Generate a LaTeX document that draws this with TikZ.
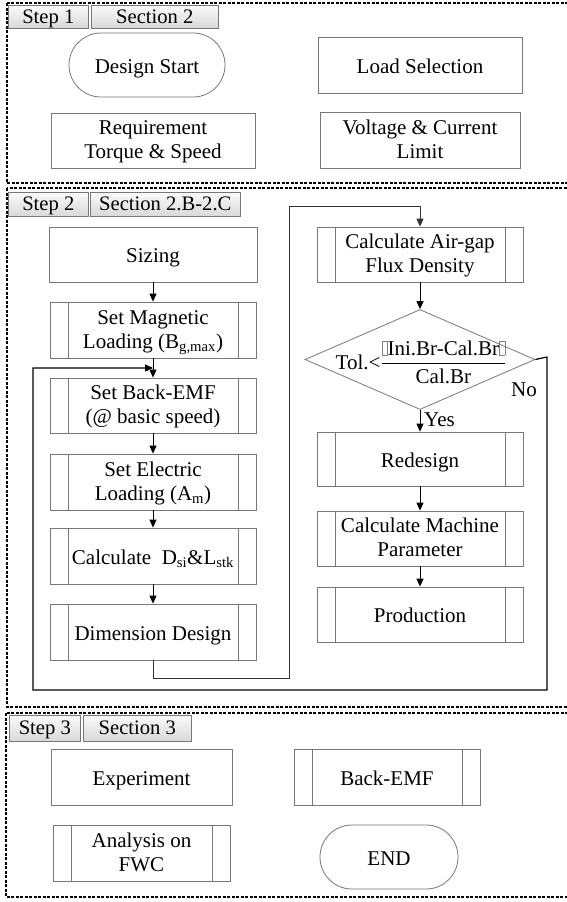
\documentclass[tikz,border=0pt]{standalone}
\usepackage{fontspec}
\setmainfont{Liberation Serif}
\usepackage{amsmath}
\usetikzlibrary{shapes.geometric,arrows.meta}
\definecolor{boxgray}{RGB}{120,120,120}
\newcommand\mbx{{\color{gray}\setlength\fboxsep{0pt}\setlength\fboxrule{0.5pt}\fbox{\rule{0pt}{14pt}\hspace{5pt}}}}
\tikzset{
  box/.style={draw=boxgray, line width=0.8pt, minimum width=206pt, minimum height=56pt,
    align=center, inner sep=1pt, font=\fontsize{21}{24}\selectfont},
  proc/.style={box, path picture={\draw[boxgray, line width=0.8pt]
    ([xshift=18pt]path picture bounding box.north west) -- ([xshift=18pt]path picture bounding box.south west)
    ([xshift=-18pt]path picture bounding box.north east) -- ([xshift=-18pt]path picture bounding box.south east);}},
  term/.style={box, rounded corners=31.9pt},
  one/.style={text height=18.5pt, text depth=2pt},
  two/.style={text height=38pt, text depth=2pt},
  tab/.style={draw=boxgray, line width=0.6pt, top color=gray!4, bottom color=gray!30,
    inner sep=0pt, anchor=north west, text height=15pt, text depth=2pt, font=\fontsize{20.6}{22}\selectfont},
  sect/.style={draw=black, line width=1.6pt, dash pattern=on 3pt off 1.5pt},
  conn/.style={draw=black, line width=0.9pt},
  arr/.style={conn, -{Triangle[length=8pt,width=7pt]}},
  lbl/.style={font=\fontsize{21}{24}\selectfont, inner sep=0pt},
}
\begin{document}
\begin{tikzpicture}[x=1pt,y=-1pt]
\clip (0,0) rectangle (567,902);
\fill[white] (0,0) rectangle (567,902);
% section frames
\draw[sect] (7,3) rectangle (580,183);
\draw[sect] (7,188) rectangle (580,707);
\draw[sect] (6,713) rectangle (580,897);
% tabs
\node[tab, minimum width=80pt, minimum height=23pt] (t1a) at (8,5) {Step 1};
\node[tab, minimum width=127pt, minimum height=23pt] (t1b) at (91,5) {Section 2};
\node[tab, minimum width=80pt, minimum height=24pt] (t2a) at (8,192) {Step 2};
\node[tab, minimum width=150pt, minimum height=24pt] (t2b) at (90,192) {Section 2.B-2.C};
\node[tab, minimum width=71pt, minimum height=26pt] (t3a) at (9,715) {Step 3};
\node[tab, minimum width=108pt, minimum height=26pt] (t3b) at (83,715) {Section 3};
% section 1
\node[term, one, minimum width=156pt, minimum height=64pt] (start) at (147,65) {Design Start};
\node[box, two, minimum width=204pt, minimum height=55pt] (req) at (153,140.5) {Requirement\\Torque \& Speed};
\node[box, one, minimum width=204pt, minimum height=56pt] (load) at (420,65) {Load Selection};
\node[box, two, minimum width=200pt, minimum height=56pt] (volt) at (420,140) {Voltage \& Current\\Limit};
% section 2 left column
\node[box, one, minimum width=208pt, minimum height=55pt] (siz) at (153,254.5) {Sizing};
\node[proc, two] (mag) at (153,330) {Set Magnetic\\Loading (B\textsubscript{g,max})};
\node[proc, two, minimum height=55pt] (bemf) at (153,405.5) {Set Back-EMF\\(@ basic speed)};
\node[proc, two] (elec) at (153,482) {Set Electric\\Loading (A\textsubscript{m})};
\node[proc, one] (calc) at (153,556) {Calculate\ \ D\textsubscript{si}\&L\textsubscript{stk}};
\node[proc, one] (dim) at (153,632) {Dimension Design};
% section 2 right column
\node[proc, two, minimum height=55pt] (air) at (420,254.5) {Calculate Air-gap\\Flux Density};
\node[draw=boxgray, line width=0.8pt, diamond, minimum width=230pt, minimum height=100pt, inner sep=0pt] (dia) at (420,359.5) {};
\node[lbl] (dtext) at (421,362) {Tol.<$\dfrac{\text{\mbx Ini.Br-Cal.Br\mbx}}{\text{Cal.Br}}$};
\node[proc, one, minimum height=54pt] (red) at (420,459) {Redesign};
\node[proc, two, minimum height=55pt] (mach) at (420,538.5) {Calculate Machine\\Parameter};
\node[proc, one, minimum height=55pt] (prod) at (420,614.5) {Production};
\node[lbl, anchor=west] (yes) at (424,420) {Yes};
\node[lbl] (no) at (524,390) {No};
% connectors
\draw[arr] (siz) -- (mag);
\draw[arr] (mag) -- (bemf);
\draw[arr] (bemf) -- (elec);
\draw[arr] (elec) -- (calc);
\draw[arr] (calc) -- (dim);
\draw[arr] (air.south) -- (dia.north);
\draw[arr] (dia.south) -- (red.north);
\draw[arr] (red) -- (mach);
\draw[arr] (mach) -- (prod);
\coordinate (lp1) at (547,357);
\coordinate (lp2) at (547,690);
\coordinate (lp3) at (33,690);
\coordinate (lp4) at (33,368);
\coordinate (lp5) at (153,368);
\draw[arr, line width=1.2pt] (dia.east) -- (lp1) -- (lp2) -- (lp3) -- (lp4) -- (lp5);
\coordinate (q1) at (153,678);
\coordinate (q2) at (289,678);
\coordinate (q3) at (289,206);
\coordinate (q4) at (420,206);
\draw[arr, draw=black!80] (dim.south) -- (q1) -- (q2) -- (q3) -- (q4) -- (air.north);
% section 3
\node[box, one, minimum width=181pt, minimum height=56pt] (exp) at (141.5,777) {Experiment};
\node[proc, one, minimum width=186pt, minimum height=56pt] (bk) at (387,777) {Back-EMF};
\node[proc, two, minimum width=177pt, minimum height=56pt] (ana) at (141.5,853) {Analysis on\\FWC};
\node[term, one, minimum width=138pt, minimum height=64pt] (end) at (389,857) {END};
\end{tikzpicture}
\end{document}
